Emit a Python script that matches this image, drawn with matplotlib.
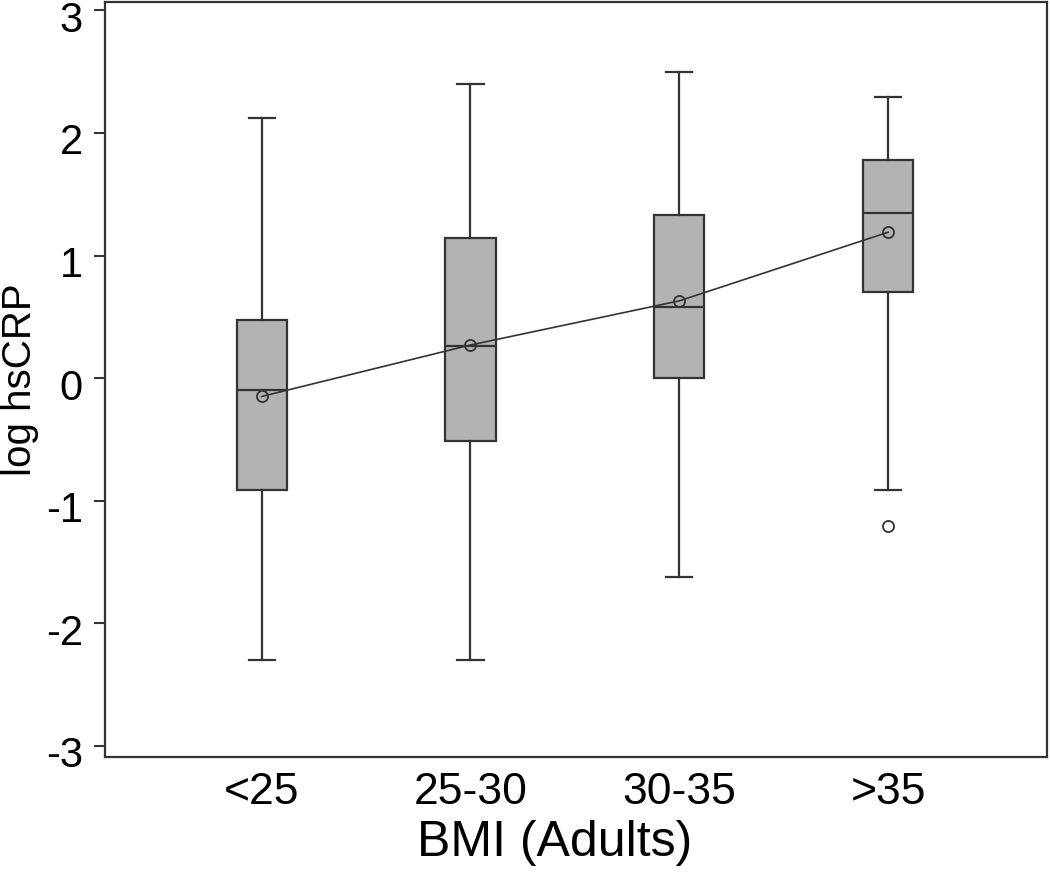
import matplotlib

matplotlib.use("Agg")
import matplotlib.pyplot as plt
import matplotlib.transforms as mtransforms

plt.rcParams["font.family"] = ["Liberation Sans", "DejaVu Sans"]

# Box plot summaries
categories = ["<25", "25-30", "30-35", ">35"]
whisker_low = [-2.30, -2.30, -1.62, -0.91]
q1 = [-0.91, -0.51, 0.0, 0.70]
medians = [-0.10, 0.26, 0.58, 1.35]
q3 = [0.47, 1.14, 1.33, 1.78]
whisker_high = [2.12, 2.40, 2.50, 2.29]
means = [-0.15, 0.27, 0.63, 1.19]
outliers = [[], [], [], [-1.21]]

edge = "#333333"
fill = "#b3b3b3"

fig = plt.figure(figsize=(10.5, 8.73), dpi=100)
ax = fig.add_axes([0.1, 0.133, 0.897, 0.865])

stats = [
    {"label": c, "whislo": lo, "q1": a, "med": m, "q3": b, "whishi": hi, "fliers": f}
    for c, lo, a, m, b, hi, f in zip(categories, whisker_low, q1, medians, q3, whisker_high, outliers)
]
positions = list(range(1, len(categories) + 1))
ax.bxp(
    stats,
    positions=positions,
    widths=0.24,
    patch_artist=True,
    showfliers=True,
    boxprops={"facecolor": fill, "edgecolor": edge, "linewidth": 1.6},
    medianprops={"color": edge, "linewidth": 1.6},
    whiskerprops={"color": edge, "linewidth": 1.6},
    capprops={"color": edge, "linewidth": 1.6},
    capwidths=0.125,
    flierprops={"marker": "o", "markerfacecolor": "white", "markeredgecolor": edge,
                "markersize": 8, "markeredgewidth": 1.3},
)

# Mean trend line
ax.plot(positions, means, color=edge, linewidth=1.2, marker="o", markersize=8,
        markerfacecolor="none", markeredgecolor=edge, markeredgewidth=1.3, zorder=5)

ax.set_xlim(0.25, 4.76)
ax.set_ylim(-3.09, 3.07)
ax.set_yticks([-3, -2, -1, 0, 1, 2, 3])
ax.set_yticklabels(["-3", "-2", "-1", "0", "1", "2", "3"])
ax.set_xticks(positions)
ax.set_xticklabels(categories)
ax.tick_params(axis="y", length=8, width=1.5, color=edge, labelsize=30, pad=8)
ax.tick_params(axis="x", length=0, labelsize=32, pad=11)
for spine in ax.spines.values():
    spine.set_linewidth(1.6)
    spine.set_color(edge)

# y tick labels sit a little below their ticks in the original
shift = mtransforms.ScaledTranslation(0, -0.06, fig.dpi_scale_trans)
for lbl in ax.get_yticklabels():
    lbl.set_transform(lbl.get_transform() + shift)

ax.set_xlabel("BMI (Adults)", fontsize=36)
ax.xaxis.set_label_coords(0.477, -0.083)
ax.set_ylabel("log hsCRP", fontsize=29)
ax.yaxis.label.set_verticalalignment("center")
ax.yaxis.set_label_coords(-0.0905, 0.5)

fig.savefig("out.png", dpi=100)
